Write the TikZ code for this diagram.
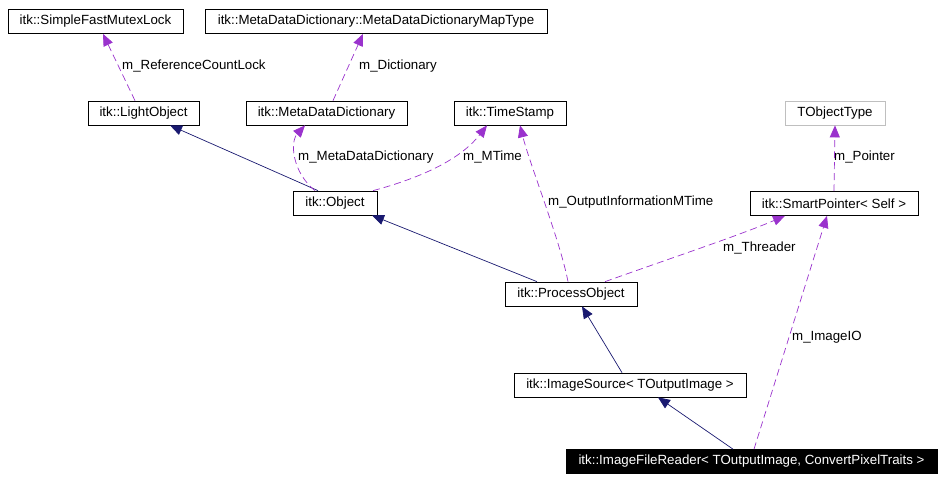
\documentclass[tikz,border=0pt]{standalone}
\usepackage{fontspec}
\setmainfont{Liberation Sans}
\usepackage{tikz}
\usetikzlibrary{arrows.meta,positioning}
\definecolor{navyedge}{HTML}{191970}
\definecolor{purpleedge}{HTML}{9A32CD}

\begin{document}
\begin{tikzpicture}[x=1pt, y=-1pt,
    every node/.style={font=\fontsize{13.3}{15}\selectfont},
    cls/.style={draw, line width=0.7pt, inner sep=0pt, minimum height=24pt},
    lbl/.style={anchor=west, inner sep=0pt},
    inherit/.style={navyedge, line width=0.7pt, -{Triangle[length=12pt,width=10pt]}},
    member/.style={purpleedge, line width=0.7pt, dash pattern=on 7pt off 4pt, -{Triangle[length=12pt,width=10pt]}}]
        \useasboundingbox (0,0) rectangle (943,482);

        % Top row
        \node[cls, minimum width=175pt] (sfml) at (95.5,21.5) {itk::SimpleFastMutexLock};
        \node[cls, minimum width=342pt] (maptype) at (376,21.5) {itk::MetaDataDictionary::MetaDataDictionaryMapType};

        % Second row
        \node[cls, minimum width=111pt] (lobj) at (143.5,113) {itk::LightObject};
        \node[cls, minimum width=161pt] (mdd) at (326.5,113) {itk::MetaDataDictionary};
        \node[cls, minimum width=112pt] (tstamp) at (510,113) {itk::TimeStamp};
        \node[cls, draw=gray!50, minimum width=100pt] (tobj) at (835,113) {TObjectType};

        % Third row
        \node[cls, minimum width=84pt] (obj) at (335,203) {itk::Object};
        \node[cls, minimum width=168pt] (sptr) at (834,203.5) {itk::SmartPointer< Self >};

        % Lower rows
        \node[cls, minimum width=132pt] (pobj) at (571,294) {itk::ProcessObject};
        \node[cls, minimum width=232pt] (isrc) at (630,385) {itk::ImageSource< TOutputImage >};
        \node[cls, fill=black, text=white, minimum width=371pt] (ifr) at (751.5,461.5) {itk::ImageFileReader< TOutputImage, ConvertPixelTraits >};

        % Labels
        \node[lbl] (lref) at (122,66) {m\_ReferenceCountLock};
        \node[lbl] (ldict) at (359,66) {m\_Dictionary};
        \node[lbl] (lmdd) at (298,157) {m\_MetaDataDictionary};
        \node[lbl] (lmtime) at (463,157) {m\_MTime};
        \node[lbl] (lptr) at (834,157) {m\_Pointer};
        \node[lbl] (loutinfo) at (548,202) {m\_OutputInformationMTime};
        \node[lbl] (lthr) at (723,248) {m\_Threader};
        \node[lbl] (limgio) at (792,337) {m\_ImageIO};

        % Inheritance
        \draw[inherit] ([xshift=-17pt]obj.north) -- ([xshift=26.5pt]lobj.south);
        \draw[inherit] ([xshift=-34pt]pobj.north) -- ([xshift=37pt]obj.south);
        \draw[inherit] ([xshift=-8pt]isrc.north) -- ([xshift=11pt]pobj.south);
        \draw[inherit] ([xshift=-18.5pt]ifr.north) -- ([xshift=28pt]isrc.south);

        % Members
        \draw[member] ([xshift=-8.5pt]lobj.north) -- ([xshift=7.5pt]sfml.south);
        \draw[member] ([xshift=6.5pt]mdd.north) -- ([xshift=-13pt]maptype.south);
        \draw[member] ([xshift=-20pt]obj.north) .. controls (292,172) and (290,142) .. ([xshift=-21.5pt]mdd.south);
        \draw[member] ([xshift=38pt]obj.north) .. controls (420,178) and (460,160) .. ([xshift=-23pt]tstamp.south);
        \draw[member] ([xshift=-3pt]pobj.north) .. controls (560,240) and (530,165) .. ([xshift=10pt]tstamp.south);
        \draw[member] ([xshift=34pt]pobj.north) .. controls (680,255) and (740,235) .. ([xshift=-49pt]sptr.south);
        \draw[member] (sptr.north) -- (tobj.south);
        \draw[member] ([xshift=2.5pt]ifr.north) -- ([xshift=-7pt]sptr.south);
    \end{tikzpicture}
\end{document}
